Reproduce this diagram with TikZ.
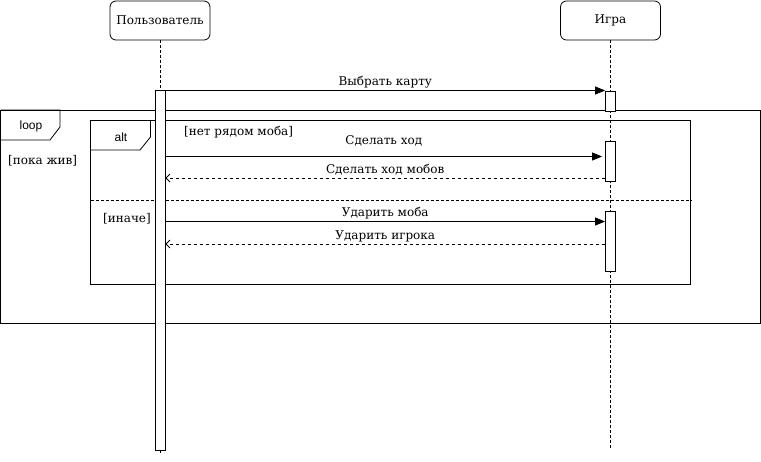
\documentclass[tikz,border=0pt]{standalone}
\usepackage{fontspec}
\setmainfont{DejaVu Serif}
\setsansfont{Liberation Sans}
\usetikzlibrary{arrows.meta}
\tikzset{
  actor/.style={draw,rounded corners=6pt,line width=0.8pt,minimum width=100pt,minimum height=39pt,inner sep=0pt,font=\fontsize{12}{14}\selectfont},
  act/.style={draw,fill=white,line width=0.8pt,minimum width=10pt,inner sep=0pt,anchor=north},
  life/.style={line width=0.8pt,dash pattern=on 3pt off 2pt},
  frm/.style={draw,line width=0.8pt},
  msg/.style={line width=0.8pt,-{Triangle[length=10pt,width=8pt]}},
  ret/.style={line width=0.8pt,dash pattern=on 3pt off 3pt,-{Straight Barb[length=4pt,width=8pt]}},
  lbl/.style={font=\fontsize{12}{14}\selectfont,inner sep=0pt},
  guard/.style={font=\fontsize{12}{14}\selectfont,inner sep=0pt,anchor=west},
  tab/.style={font=\sffamily\fontsize{12}{14}\selectfont,inner sep=0pt}
}
\begin{document}
\begin{tikzpicture}[x=1pt,y=-1pt]
\useasboundingbox (0,0) rectangle (761,461);
% frames
\draw[frm] (0.5,110) rectangle (760.5,323);
\draw[frm] (0.5,110) -- (60,110) -- (60,127) -- (50,140) -- (0.5,140);
\node[tab] (looplbl) at (31,126) {loop};
\node[guard] (g1) at (8,161) {[пока жив]};

% lifelines
\node[actor] (user) at (160,20.5) {Пользователь};
\node[actor] (game) at (610.5,20.5) {Игра};
\coordinate (uend) at (160,455);
\coordinate (gend) at (610.5,450);
\draw[life] (user.south) -- (uend);
\draw[life] (game.south) -- (gend);

\draw[frm] (90.5,120.5) rectangle (690.5,284);
\draw[frm] (90.5,120.5) -- (150.5,120.5) -- (150.5,137) -- (140,150) -- (90.5,150);
\node[tab] (altlbl) at (121,137) {alt};
\node[guard] (g2) at (184,132) {[нет рядом моба]};
\node[guard] (g3) at (103,219) {[иначе]};
\coordinate (sepl) at (90.5,200);
\coordinate (sepr) at (692,200);
\draw[line width=0.8pt,dash pattern=on 3pt off 2pt] (sepl) -- (sepr);

% activations
\node[act,minimum height=360pt] (ua) at (160,90) {};
\node[act,minimum height=20pt] (ga1) at (610.5,90.5) {};
\node[act,minimum height=40pt] (ga2) at (610.5,140.5) {};
\node[act,minimum height=60pt] (ga3) at (610.5,210.5) {};

% messages
\draw[msg] (ua.east |- 0,90.5) -- (ga1.west |- 0,90.5) node[lbl,midway,above=1.5pt] (l1) {Выбрать карту};
\draw[msg] (ua.east |- 0,156.5) -- ([xshift=-3pt]ga2.west |- 0,156.5) node[lbl,midway,above=10pt] (l2) {Сделать ход};
\draw[ret] (ga2.west |- 0,178) -- (ua.east |- 0,178) node[lbl,midway,above=2pt] (l3) {Сделать ход мобов};
\draw[msg] (ua.east |- 0,221.5) -- (ga3.west |- 0,221.5) node[lbl,midway,above=2pt] (l4) {Ударить моба};
\draw[ret] (ga3.west |- 0,244) -- (ua.east |- 0,244) node[lbl,midway,above=2pt] (l5) {Ударить игрока};
\end{tikzpicture}
\end{document}
